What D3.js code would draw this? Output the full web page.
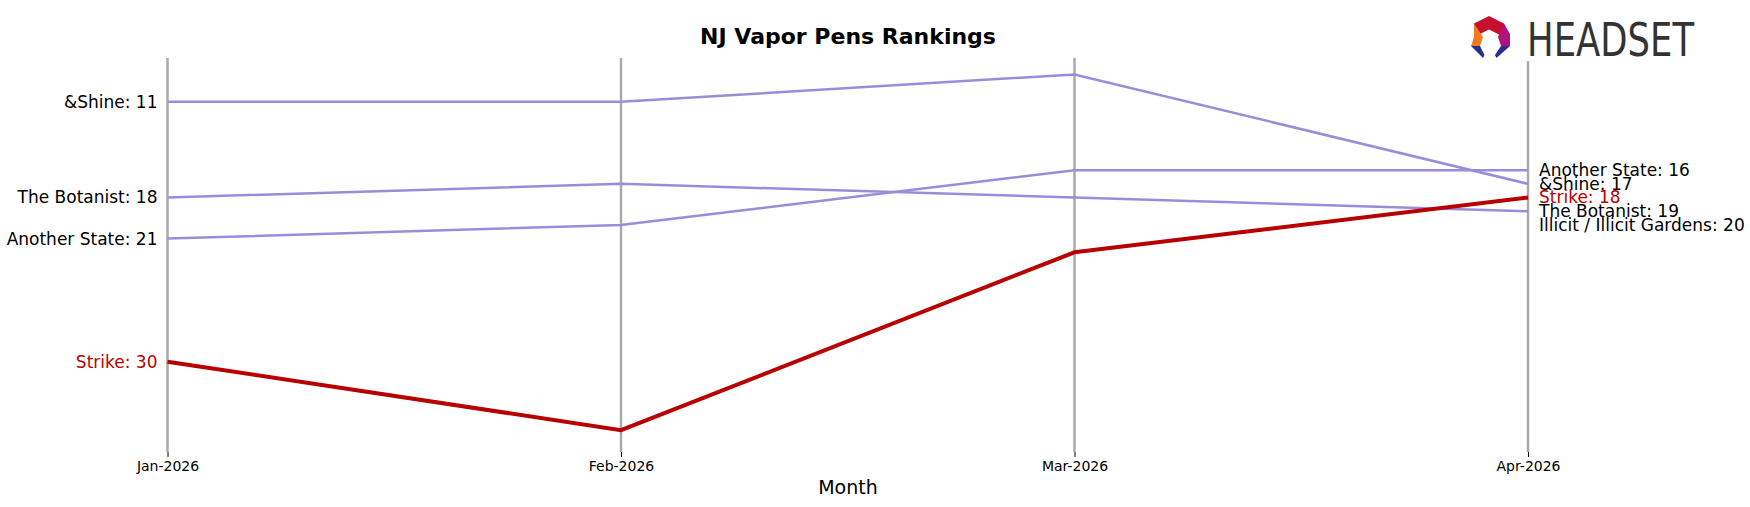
<!DOCTYPE html>
<html><head><meta charset="utf-8">
<script src="https://cdn.jsdelivr.net/npm/d3@7"></script>
<style>body{margin:0;background:#fff}svg{font-family:"DejaVu Sans",sans-serif}</style>
</head><body><svg id="c" width="1750" height="507"></svg>
<script>
const months = ["Jan-2026","Feb-2026","Mar-2026","Apr-2026"];
const brands = ["&Shine","The Botanist","Another State","Strike","Illicit / Illicit Gardens"];
const shine = [11,11,9,17];
const botanist = [18,17,18,19];
const anotherState = [21,20,16,16];
const strike = [30,35,22,18];
const illicit = [null,null,null,20];
const series = [shine,botanist,anotherState,strike,illicit];
const highlight = "Strike";

const svg = d3.select("#c");
const x = d3.scalePoint().domain(months).range([167.5,1528]);
const y = d3.scaleLinear().domain([7.8,36.6]).range([58,452]);

months.forEach((m,i)=>{
  svg.append("line").attr("x1",x(m)).attr("x2",x(m)).attr("y1",i==3?61:58).attr("y2",452)
    .attr("stroke","#aaa").attr("stroke-width",2.5);
});
const ax = svg.append("g").attr("transform","translate(0,452)").call(d3.axisBottom(x).tickSize(5).tickPadding(4));
ax.select(".domain").remove();
ax.selectAll("text").attr("font-size",14).attr("fill","#000").attr("font-family","DejaVu Sans");
ax.selectAll("line").attr("stroke","#000");

const line = d3.line().defined(d=>d[1]!=null).x(d=>x(d[0])).y(d=>y(d[1]));
const order = [0,1,2,4,3];
order.forEach(k=>{
  const b=brands[k], v=series[k], hl=b===highlight;
  svg.append("path").datum(months.map((m,i)=>[m,v[i]])).attr("d",line).attr("fill","none")
    .attr("stroke",hl?"#b80000":"#9b8cdb").attr("stroke-width",hl?4:2.5);
  if(v[0]!=null) svg.append("text").attr("x",x(months[0])-10).attr("y",y(v[0])).attr("dy","0.35em")
    .attr("text-anchor","end").attr("font-size",17).attr("fill",hl?"#b80000":"#000").text(b+": "+v[0]);
  svg.append("text").attr("x",x(months[3])+11).attr("y",y(v[3])).attr("dy","0.35em")
    .attr("font-size",17).attr("fill",hl?"#b80000":"#000").text(b+": "+v[3]);
});

svg.append("text").attr("x",848).attr("y",44).attr("text-anchor","middle").attr("font-size",22)
  .attr("font-weight","bold").text("NJ Vapor Pens Rankings");
svg.append("text").attr("x",848).attr("y",494).attr("text-anchor","middle").attr("font-size",19).text("Month");

// logo
const lg = svg.append("g").attr("transform","translate(1471,16) scale(1.5)");
lg.append("polygon").attr("points","12,0 22,5 22,14 12,9 2,14 2,5").attr("fill","#c8102e");
lg.append("polygon").attr("points","2,5 2,14 0,20 6,20 8,14").attr("fill","#f07c1e");
lg.append("polygon").attr("points","22,5 26,12 26,20 20,20 18,14").attr("fill","#b0137a");
lg.append("polygon").attr("points","0,20 6,20 9,26 8,28").attr("fill","#2a2f8f");
lg.append("polygon").attr("points","26,20 20,20 16,26 17,28").attr("fill","#2a2f8f");
svg.append("text").attr("x",1527).attr("y",56).attr("font-size",46).attr("font-family","Liberation Sans Narrow, DejaVu Sans Condensed, sans-serif")
  .attr("fill","#333").attr("textLength",167).attr("lengthAdjust","spacingAndGlyphs").text("HEADSET");
</script></body></html>
